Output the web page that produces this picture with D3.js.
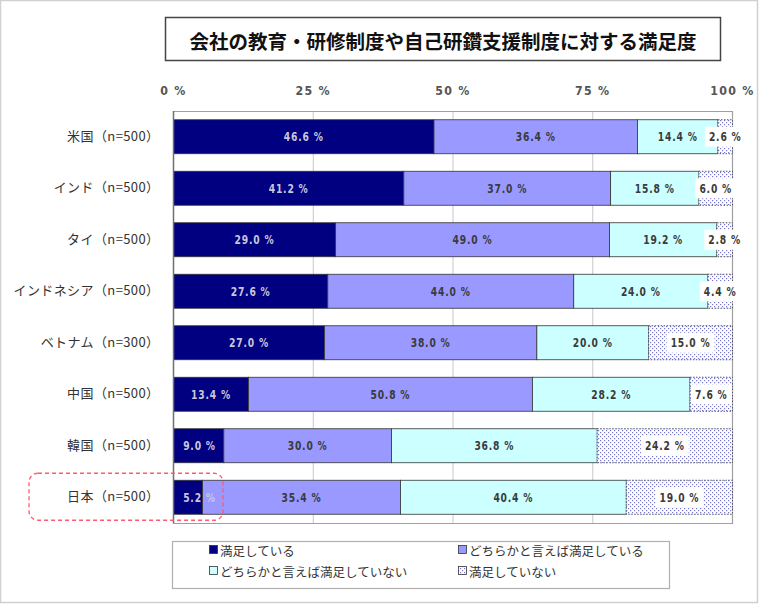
<!DOCTYPE html>
<html><head><meta charset="utf-8">
<script src="https://cdn.jsdelivr.net/npm/d3@7"></script>
<style>
body{margin:0;background:#fff;}
svg{display:block;}
.jp{font-family:"Noto Sans CJK JP","Noto Sans",sans-serif;}
.num{font-family:"DejaVu Sans",sans-serif;}
</style>
</head><body>
<svg id="c" width="759" height="604"></svg>
<script>
const title = "会社の教育・研修制度や自己研鑽支援制度に対する満足度";
const categories = ["米国（n=500）","インド（n=500）","タイ（n=500）","インドネシア（n=500）","ベトナム（n=300）","中国（n=500）","韓国（n=500）","日本（n=500）"];
const seriesNames = ["満足している","どちらかと言えば満足している","どちらかと言えば満足していない","満足していない"];
const satisfied      = [46.6,41.2,29.0,27.6,27.0,13.4,9.0,5.2];
const ratherSatisfied= [36.4,37.0,49.0,44.0,38.0,50.8,30.0,35.4];
const ratherNot      = [14.4,15.8,19.2,24.0,20.0,28.2,36.8,40.4];
const notSatisfied   = [2.6,6.0,2.8,4.4,15.0,7.6,24.2,19.0];
const tickValues = [0,25,50,75,100];
const tickLabels = ["0 %","25 %","50 %","75 %","100 %"];
const highlighted = "日本（n=500）";

const seriesValues = [satisfied, ratherSatisfied, ratherNot, notSatisfied];
const colors = ["#000080","#9999ff","#ccffff","url(#dots)"];
const labelColors = ["#c8c8dc","#3a3a3a","#3a3a3a","#3a3a3a"];

const svg = d3.select("#c");
const defs = svg.append("defs");
const pat = defs.append("pattern").attr("id","dots").attr("width",4).attr("height",4).attr("patternUnits","userSpaceOnUse");
pat.append("rect").attr("width",4).attr("height",4).attr("fill","#fff");
pat.append("rect").attr("x",0).attr("y",0).attr("width",1.2).attr("height",1.2).attr("fill","#7777cc");
pat.append("rect").attr("x",2).attr("y",2).attr("width",1.2).attr("height",1.2).attr("fill","#7777cc");

// outer frame
svg.append("rect").attr("x",0.5).attr("y",0.5).attr("width",757).attr("height",602).attr("fill","#fff").attr("stroke","#d0d0d0").attr("stroke-width",1.5);

// title box
svg.append("rect").attr("x",165.5).attr("y",17.5).attr("width",555).attr("height",43).attr("fill","#fff").attr("stroke","#444").attr("stroke-width",1.5);
svg.append("text").attr("class","jp").attr("x",443).attr("y",40).attr("text-anchor","middle").attr("dominant-baseline","central")
  .attr("font-size",19.5).attr("font-weight","bold").attr("fill","#111").text(title);

const x = d3.scaleLinear().domain([0,100]).range([173.5,732.5]);
const y = d3.scaleBand().domain(categories).range([111,523]).paddingInner(0.34).paddingOuter(0.17);

// gridlines
svg.append("g").selectAll("line").data(tickValues.filter(t=>t>0&&t<100)).join("line")
  .attr("x1",d=>x(d)).attr("x2",d=>x(d)).attr("y1",111).attr("y2",523).attr("stroke","#c8c8c8");

// plot border
svg.append("path").attr("d",`M${x(0)},111.5H${x(100)}V523.5H${x(0)}`).attr("fill","none").attr("stroke","#a0a0a0").attr("stroke-width",1.2);

// stacked data
const rows = categories.map((c,i)=>{
  let acc=0;
  return seriesValues.map((s,k)=>{const d={cat:c,k,v:s[i],x0:acc,x1:acc+s[i]}; acc+=s[i]; return d;});
});
const segs = rows.flat();

const g = svg.append("g");
g.selectAll("rect").data(segs).join("rect")
  .attr("x",d=>x(d.x0)).attr("y",d=>y(d.cat)).attr("width",d=>x(d.x1)-x(d.x0)).attr("height",y.bandwidth())
  .attr("fill",d=>colors[d.k])
  .attr("stroke",d=>d.k===3?"#555":"#333").attr("stroke-width",d=>d.k===3?1:0.8)
  .attr("stroke-dasharray",d=>d.k===3?"1.5,1.5":null);

// left axis line
svg.append("line").attr("x1",x(0)).attr("x2",x(0)).attr("y1",111).attr("y2",523.5).attr("stroke","#707070").attr("stroke-width",1.5);

// value labels (horizontally condensed)
const lab = svg.append("g").attr("class","num").attr("font-size",11.5).attr("font-weight","bold").attr("letter-spacing","1px");
segs.forEach(d=>{
  let cx = (x(d.x0)+x(d.x1))/2;
  cx = Math.max(cx, x(0)+26);
  const cy = y(d.cat)+y.bandwidth()/2;
  const grp = lab.append("g").attr("transform",`translate(${cx},${cy}) scale(0.8,1)`);
  const t = grp.append("text").attr("x",0).attr("y",0).attr("text-anchor","middle").attr("dominant-baseline","central")
    .attr("fill",labelColors[d.k]).text(d.v.toFixed(1)+" %");
  if(d.k===3){
    const bb = t.node().getBBox();
    grp.insert("rect","text").attr("x",bb.x-5).attr("y",-10).attr("width",bb.width+10).attr("height",20).attr("fill","#fff");
  }
});

// top axis
const ax = svg.append("g").attr("transform","translate(0,111)")
  .call(d3.axisTop(x).tickValues(tickValues).tickFormat((d,i)=>tickLabels[i]).tickSize(0).tickPadding(16));
ax.select(".domain").remove();
ax.selectAll(".tick text").attr("class","num").attr("font-size",13).attr("font-weight","bold").attr("fill","#555").attr("letter-spacing","1.5px")
  .attr("transform","scale(0.85,1)");
ax.selectAll(".tick").attr("transform",d=>`translate(${x(d)},0)`);

// left axis labels
const ay = svg.append("g").attr("transform",`translate(${x(0)},0)`)
  .call(d3.axisLeft(y).tickSize(0).tickPadding(14));
ay.select(".domain").remove();
ay.selectAll("text").attr("class","jp").attr("font-size",13).attr("fill","#333").attr("letter-spacing","0.4px");

// highlight dashed rounded rect around Japan
const hy = y(highlighted);
svg.append("rect").attr("x",29).attr("y",hy-7).attr("width",194).attr("height",y.bandwidth()+13).attr("rx",9)
  .attr("fill","none").attr("stroke","#ff5a6e").attr("stroke-width",1.3).attr("stroke-dasharray","4,3");

// legend
svg.append("rect").attr("x",172.5).attr("y",541.5).attr("width",497).attr("height",47).attr("fill","#fff").attr("stroke","#b0b0b0").attr("stroke-width",1.2);
const legPos = [[209,550],[458,550],[209,571],[458,571]];
const leg = svg.append("g");
seriesNames.forEach((n,i)=>{
  const [lx,ly]=legPos[i];
  leg.append("rect").attr("x",lx+0.5).attr("y",ly-4.5).attr("width",8).attr("height",8).attr("fill",colors[i]).attr("stroke","#333").attr("stroke-width",0.8);
  leg.append("text").attr("class","jp").attr("x",lx+11).attr("y",ly).attr("dominant-baseline","central").attr("font-size",12.5).attr("fill","#333").text(n);
});
</script>
</body></html>
